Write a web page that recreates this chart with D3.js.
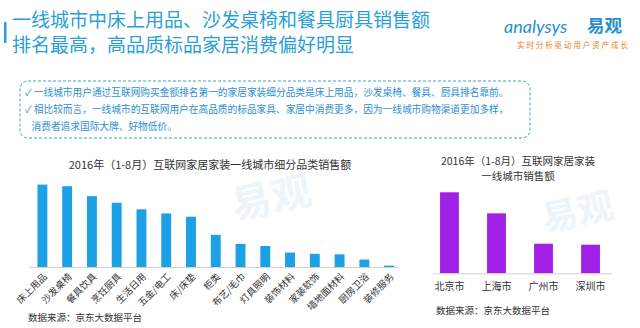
<!DOCTYPE html>
<html>
<head>
<meta charset="utf-8">
<script src="https://cdn.jsdelivr.net/npm/d3@7"></script>
<style>
  body { margin: 0; background: #fff; }
  svg { display: block; font-family: "Noto Sans CJK SC", "Noto Sans", sans-serif; }
</style>
</head>
<body>
<script>
var width = 640,
  height = 328;

// left chart: category sales index (top bar = 100)
var categories = ["床上用品", "沙发桌椅", "餐具饮具", "烹饪厨具", "生活日用", "五金/电工", "床/床垫", "柜类",
  "布艺/毛巾", "灯具照明", "装饰材料", "家装软饰", "墙地面材料", "厨房卫浴", "装修服务"];
var categoryValues = [100, 98, 86, 78, 70, 65, 61, 39, 28, 25.5, 17.5, 16, 15.4, 9, 1.7];

// right chart: city sales index
var cities = ["北京市", "上海市", "广州市", "深圳市"];
var cityValues = [100, 74, 36.5, 35.3];

var headline = ["一线城市中床上用品、沙发桌椅和餐具厨具销售额", "排名最高，高品质标品家居消费偏好明显"];
var notes = [
  "✓ 一线城市用户通过互联网购买金额排名第一的家居家装细分品类是床上用品，沙发桌椅、餐具、厨具排名靠前。",
  "✓ 相比较而言，一线城市的互联网用户在高品质的标品家具、家居中消费更多，因为一线城市购物渠道更加多样，",
  "   消费者追求国际大牌、好物低价。"
];
var leftTitle = "2016年（1-8月）互联网家居家装一线城市细分品类销售额";
var rightTitle = ["2016年（1-8月）互联网家居家装", "一线城市销售额"];
var sourceText = "数据来源：京东大数据平台";

var svg = d3.select("body").append("svg")
  .attr("width", width)
  .attr("height", height);

// faint watermarks
var wm = svg.append("g").attr("fill", "#edf5fa").style("font-weight", "bold");
wm.append("text").attr("x", 235).attr("y", 220).attr("font-size", 40)
  .attr("transform", "rotate(-12,235,220)").text("易观");
wm.append("text").attr("x", 545).attr("y", 232).attr("font-size", 36)
  .attr("transform", "rotate(-12,545,232)").text("易观");

// header
svg.append("rect").attr("x", 4).attr("y", 22).attr("width", 2.5).attr("height", 21).attr("fill", "#2a9fd6");
svg.selectAll(".headline")
  .data(headline)
  .enter()
  .append("text")
  .attr("class", "headline")
  .attr("x", 12)
  .attr("y", function (d, i) { return 26.5 + i * 25; })
  .attr("font-size", 19)
  .attr("fill", "#2a9fd6")
  .text(function (d) { return d; });

// logo
svg.append("text").attr("x", 504).attr("y", 33).attr("font-size", 18).attr("font-style", "italic")
  .attr("fill", "#2a8fd0").attr("font-family", "Lato, sans-serif").text("analysys");
svg.append("text").attr("x", 587).attr("y", 32).attr("font-size", 17.5).attr("font-weight", "bold")
  .attr("fill", "#2a8fd0").text("易观");
svg.append("text").attr("x", 517).attr("y", 47.5).attr("font-size", 7.5)
  .attr("letter-spacing", 1.9)
  .attr("fill", "#e8821e").text("实时分析驱动用户资产成长");

// notes box
svg.append("rect")
  .attr("x", 20).attr("y", 81).attr("width", 510).attr("height", 57)
  .attr("rx", 8)
  .attr("fill", "#fff")
  .attr("stroke", "#3aa3c9")
  .attr("stroke-width", 1)
  .attr("stroke-dasharray", "3,2");
svg.selectAll(".note")
  .data(notes)
  .enter()
  .append("text")
  .attr("class", "note")
  .attr("x", 25)
  .attr("y", function (d, i) { return 96 + i * 17; })
  .attr("font-size", 9.7)
  .attr("fill", "#2e8fd0")
  .style("white-space", "pre")
  .text(function (d) { return d; });

// left chart
var x1 = d3.scaleBand()
  .domain(categories)
  .range([30.5, 401])
  .paddingInner(0.6)
  .paddingOuter(0.28);

var y1 = d3.scaleLinear()
  .domain([0, 100])
  .range([267, 184.6]);

svg.append("text")
  .attr("x", 210).attr("y", 169)
  .attr("text-anchor", "middle")
  .attr("font-size", 11)
  .attr("fill", "#333")
  .text(leftTitle);

svg.append("g").selectAll("rect")
  .data(categoryValues)
  .enter()
  .append("rect")
  .attr("x", function (d, i) { return x1(categories[i]); })
  .attr("width", x1.bandwidth())
  .attr("y", function (d) { return y1(d); })
  .attr("height", function (d) { return y1(0) - y1(d); })
  .attr("fill", "#1da1e6");

svg.append("line")
  .attr("x1", 29).attr("x2", 398)
  .attr("y1", y1(0) + 0.5).attr("y2", y1(0) + 0.5)
  .attr("stroke", "#d0d0d0");

svg.append("g").selectAll("text")
  .data(categories)
  .enter()
  .append("text")
  .attr("transform", function (d) {
    var cx = x1(d) + x1.bandwidth() / 2 + 3;
    return "translate(" + cx + "," + (y1(0) + 8) + ") rotate(-45)";
  })
  .attr("text-anchor", "end")
  .attr("dy", "0.35em")
  .attr("font-size", 9.5)
  .attr("fill", "#333")
  .text(function (d) { return d; });

svg.append("text")
  .attr("x", 28).attr("y", 321)
  .attr("font-size", 9.5)
  .attr("fill", "#333")
  .text(sourceText);

// right chart
var x2 = d3.scaleBand()
  .domain(cities)
  .range([433, 607])
  .paddingInner(0.6)
  .paddingOuter(0.15);

var y2 = d3.scaleLinear()
  .domain([0, 100])
  .range([273.3, 192.3]);

svg.selectAll(".rtitle")
  .data(rightTitle)
  .enter()
  .append("text")
  .attr("class", "rtitle")
  .attr("x", 518)
  .attr("y", function (d, i) { return 165 + i * 14.5; })
  .attr("text-anchor", "middle")
  .attr("font-size", 10.5)
  .attr("fill", "#333")
  .text(function (d) { return d; });

svg.append("g").selectAll("rect")
  .data(cityValues)
  .enter()
  .append("rect")
  .attr("x", function (d, i) { return x2(cities[i]); })
  .attr("width", x2.bandwidth())
  .attr("y", function (d) { return y2(d); })
  .attr("height", function (d) { return y2(0) - y2(d); })
  .attr("fill", "#a020e6");

svg.append("line")
  .attr("x1", 433).attr("x2", 612)
  .attr("y1", y2(0) + 0.5).attr("y2", y2(0) + 0.5)
  .attr("stroke", "#d0d0d0");

svg.append("g").selectAll("text")
  .data(cities)
  .enter()
  .append("text")
  .attr("x", function (d) { return x2(d) + x2.bandwidth() / 2; })
  .attr("y", 290)
  .attr("text-anchor", "middle")
  .attr("font-size", 10)
  .attr("fill", "#333")
  .text(function (d) { return d; });

svg.append("text")
  .attr("x", 436).attr("y", 314)
  .attr("font-size", 9.5)
  .attr("fill", "#333")
  .text(sourceText);
</script>
</body>
</html>
